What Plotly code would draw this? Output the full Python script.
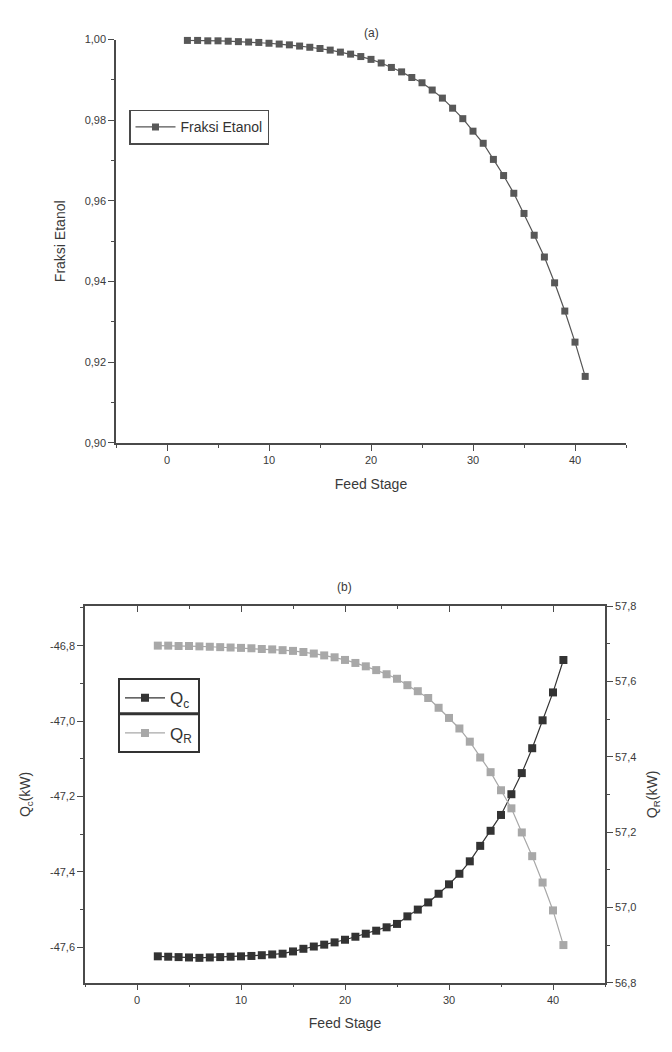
import plotly.graph_objects as go

# ---------------- data ----------------
stage = list(range(2, 42))

fraksi_etanol = [0.9998, 0.9998, 0.9997, 0.9997, 0.9996, 0.9995, 0.9994, 0.9993, 0.9991, 0.9989,
                 0.9987, 0.9984, 0.9981, 0.9978, 0.9974, 0.9969, 0.9964, 0.9958, 0.9951, 0.9942,
                 0.9931, 0.9920, 0.9906, 0.9893, 0.9875, 0.9855, 0.9830, 0.9804, 0.9773, 0.9743,
                 0.9703, 0.9663, 0.9619, 0.9569, 0.9515, 0.9461, 0.9397, 0.9327, 0.9250, 0.9165]

q_c = [-47.624, -47.625, -47.626, -47.627, -47.628, -47.627, -47.626, -47.625, -47.624, -47.623,
       -47.621, -47.619, -47.617, -47.611, -47.604, -47.598, -47.593, -47.587, -47.580, -47.572,
       -47.564, -47.556, -47.547, -47.538, -47.518, -47.500, -47.481, -47.458, -47.433, -47.405,
       -47.372, -47.331, -47.291, -47.249, -47.194, -47.138, -47.072, -46.998, -46.924, -46.838]

q_r = [57.695, 57.695, 57.694, 57.694, 57.693, 57.692, 57.691, 57.690, 57.689, 57.688,
       57.686, 57.685, 57.683, 57.681, 57.678, 57.674, 57.669, 57.664, 57.657, 57.649,
       57.640, 57.630, 57.619, 57.607, 57.590, 57.574, 57.556, 57.530, 57.503, 57.475,
       57.440, 57.398, 57.359, 57.311, 57.263, 57.199, 57.136, 57.066, 56.992, 56.900]

x_ticks = [0, 10, 20, 30, 40]
ya_ticks = [0.90, 0.92, 0.94, 0.96, 0.98, 1.00]
yb_left_ticks = [-47.6, -47.4, -47.2, -47.0, -46.8]
yb_right_ticks = [56.8, 57.0, 57.2, 57.4, 57.6, 57.8]


def comma(v, nd):
    return f"{v:.{nd}f}".replace(".", ",")


# ---------------- styling ----------------
FONT = "Liberation Sans, Arial, sans-serif"
AX = "#4a4a4a"
TXT = "#3a3a3a"

fig = go.Figure()

fig.add_trace(go.Scatter(
    x=stage, y=fraksi_etanol, name="Fraksi Etanol", mode="lines+markers",
    line=dict(color="#555555", width=1.2),
    marker=dict(symbol="square", size=7, color="#585858"),
    xaxis="x", yaxis="y", legend="legend", cliponaxis=False))

fig.add_trace(go.Scatter(
    x=stage, y=q_c, name="Q<sub>c</sub>", mode="lines+markers",
    line=dict(color="#333333", width=1.2),
    marker=dict(symbol="square", size=8, color="#333333"),
    xaxis="x2", yaxis="y2", legend="legend2", legendgroup="qc", cliponaxis=False))

fig.add_trace(go.Scatter(
    x=stage, y=q_r, name="Q<sub>R</sub>", mode="lines+markers",
    line=dict(color="#a8a8a8", width=1.2),
    marker=dict(symbol="square", size=8, color="#a8a8a8"),
    xaxis="x2", yaxis="y3", legend="legend2", legendgroup="qr", cliponaxis=False))

# invisible carrier so the top (mirror) axis of panel (b) gets drawn
fig.add_trace(go.Scatter(
    x=stage, y=q_c, mode="markers", marker=dict(opacity=0), showlegend=False,
    hoverinfo="skip", xaxis="x3", yaxis="y2"))

tickfont = dict(family=FONT, size=11, color=TXT)
titlefont = dict(family=FONT, size=14, color=TXT)

common_x = dict(range=[-5, 45], tickvals=x_ticks, ticks="outside", ticklen=6, tickwidth=1.2,
                tickcolor=AX, showline=True, linecolor=AX, linewidth=1.5, showgrid=False,
                zeroline=False, tickfont=tickfont,
                minor=dict(dtick=5, tick0=0, ticks="outside", ticklen=3, tickcolor=AX, tickwidth=1))

fig.update_layout(
    width=672, height=1052,
    margin=dict(l=0, r=0, t=0, b=0),
    paper_bgcolor="white", plot_bgcolor="white",
    font=dict(family=FONT, color=TXT),
    xaxis=dict(domain=[116/672, 626/672], anchor="y",
               title=dict(text="Feed Stage", font=titlefont, standoff=14), **common_x),
    yaxis=dict(domain=[1-442/1052, 1-34/1052], anchor="x", range=[0.90, 1.00],
               tickvals=ya_ticks, ticktext=[comma(v, 2) for v in ya_ticks],
               ticks="outside", ticklen=6, tickwidth=1.2,
               tickcolor=AX, showline=True, linecolor=AX, linewidth=1.5, showgrid=False,
               zeroline=False, tickfont=tickfont,
               minor=dict(dtick=0.01, tick0=0.9, ticks="outside", ticklen=3, tickcolor=AX, tickwidth=1),
               title=dict(text="Fraksi Etanol", font=titlefont, standoff=16)),
    xaxis2=dict(domain=[85/672, 605/672], anchor="y2",
                title=dict(text="Feed Stage", font=titlefont, standoff=14), **common_x),
    xaxis3=dict(domain=[85/672, 605/672], anchor="y2", overlaying="x2", side="top",
                range=[-5, 45], tickvals=x_ticks, ticks="inside", ticklen=6, tickwidth=1.2,
                tickcolor=AX, showline=True, linecolor=AX, linewidth=1.5, showgrid=False,
                zeroline=False, showticklabels=False,
                minor=dict(dtick=5, tick0=0, ticks="inside", ticklen=3, tickcolor=AX, tickwidth=1)),
    yaxis2=dict(domain=[1-988/1052, 1-607/1052], anchor="x2", range=[-47.694, -46.695],
                tickvals=yb_left_ticks, ticktext=[comma(v, 1) for v in yb_left_ticks],
                ticks="outside", ticklen=6, tickwidth=1.2,
                tickcolor=AX, showline=True, linecolor=AX, linewidth=1.5, showgrid=False,
                zeroline=False, tickfont=tickfont,
                minor=dict(dtick=0.1, tick0=-47.6, ticks="outside", ticklen=3, tickcolor=AX, tickwidth=1),
                title=dict(text="Q<sub>c</sub>(kW)", font=titlefont, standoff=16)),
    yaxis3=dict(domain=[1-988/1052, 1-607/1052], anchor="x2", overlaying="y2", side="right",
                range=[56.8, 57.8], tickvals=yb_right_ticks,
                ticktext=[comma(v, 1) for v in yb_right_ticks], ticks="outside",
                ticklen=6, tickwidth=1.2, tickcolor=AX, showline=True, linecolor=AX, linewidth=1.5,
                showgrid=False, zeroline=False, tickfont=tickfont,
                minor=dict(dtick=0.1, tick0=56.8, ticks="outside", ticklen=3, tickcolor=AX, tickwidth=1),
                title=dict(text="Q<sub>R</sub>(kW)", font=titlefont, standoff=12)),
    legend=dict(x=129/672, y=1-105/1052, xanchor="left", yanchor="top",
                bgcolor="white", bordercolor="#4a4a4a", borderwidth=1.5,
                font=dict(family=FONT, size=14, color="#333333"), itemwidth=40),
    legend2=dict(x=118/672, y=1-680/1052, xanchor="left", yanchor="top",
                 bgcolor="rgba(0,0,0,0)", bordercolor="#333333", borderwidth=2,
                 font=dict(family=FONT, size=17, color="#333333"), itemwidth=40,
                 tracegroupgap=10),
    showlegend=True,
    shapes=[
        dict(type="line", xref="paper", yref="paper", x0=118/672, x1=200/672,
             y0=1-716/1052, y1=1-716/1052, line=dict(color="#333333", width=3), layer="above"),
    ],
    annotations=[
        dict(text="(a)", x=371/672, y=1-18/1052, xref="paper", yref="paper",
             showarrow=False, font=dict(family=FONT, size=12, color=TXT)),
        dict(text="(b)", x=345/672, y=1-588/1052, xref="paper", yref="paper",
             showarrow=False, font=dict(family=FONT, size=12, color=TXT)),
    ],
)

fig.write_html("out.html")
